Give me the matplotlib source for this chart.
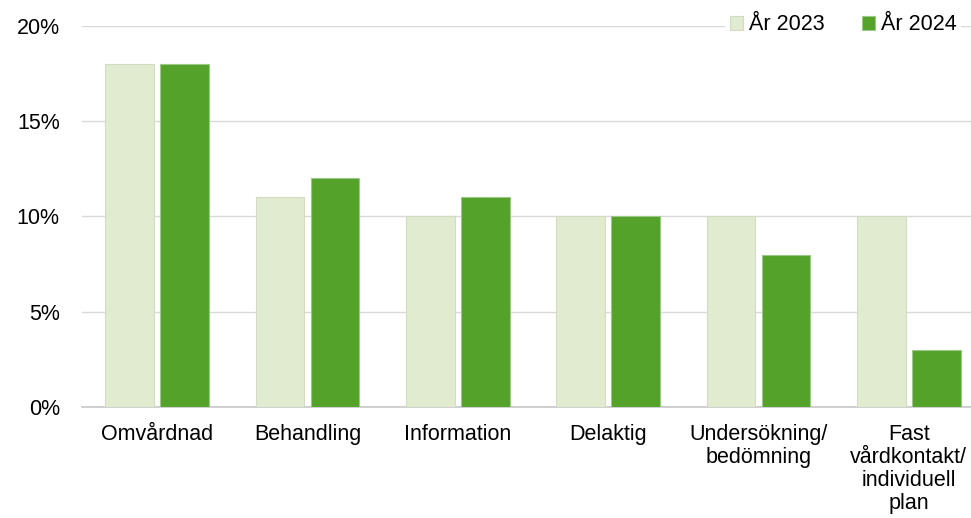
import matplotlib.pyplot as plt
import numpy as np

categories = ["Omvårdnad", "Behandling", "Information", "Delaktig",
              "Undersökning/\nbedömning", "Fast\nvårdkontakt/\nindividuell\nplan"]
values_2023 = [18, 11, 10, 10, 10, 10]
values_2024 = [18, 12, 11, 10, 8, 3]
series_names = ["År 2023", "År 2024"]
yticks = [0, 5, 10, 15, 20]

plt.rcParams['font.family'] = ['Liberation Sans', 'DejaVu Sans']
FS = 15.5

fig = plt.figure(figsize=(9.71, 5.18), dpi=100)
ax = fig.add_axes([82 / 971, 0.2143, 902 / 971, 0.7355])

x = np.arange(len(categories))
w = 0.325
gap = 0.04
ax.bar(x - (w + gap) / 2, values_2023, w, color="#e1ebcf", edgecolor="#d3dbc4",
       linewidth=0.8, label=series_names[0], zorder=3)
ax.bar(x + (w + gap) / 2, values_2024, w, color="#55a22b", edgecolor="#9cc787",
       linewidth=0.8, label=series_names[1], zorder=3)

ax.set_xlim(-0.5, len(categories) - 0.5)
ax.set_ylim(0, 20)
ax.set_yticks(yticks)
ax.set_yticklabels([f"{t}%" for t in yticks], fontsize=FS)
ax.set_xticks(x)
ax.set_xticklabels(categories, fontsize=FS, linespacing=1.13)
ax.tick_params(axis='x', length=0, pad=12)
ax.tick_params(axis='y', length=0, pad=16)
ax.grid(axis='y', color="#d9d9d9", linewidth=1, zorder=0)
for s in ['top', 'right', 'left']:
    ax.spines[s].set_visible(False)
ax.spines['bottom'].set_color("#c8c8c8")
ax.spines['bottom'].set_linewidth(1.2)

leg = ax.legend(loc='upper right', bbox_to_anchor=(961 / 971, 1 - 10 / 518),
                bbox_transform=fig.transFigure, ncol=2, frameon=True,
                fontsize=FS, handlelength=0.6, handleheight=0.6,
                handletextpad=0.28, columnspacing=1.75, borderaxespad=0,
                borderpad=0.2)
leg.get_frame().set_edgecolor('none')
leg.get_frame().set_facecolor('white')
leg.get_frame().set_alpha(1)

fig.savefig("out.png", dpi=100)
